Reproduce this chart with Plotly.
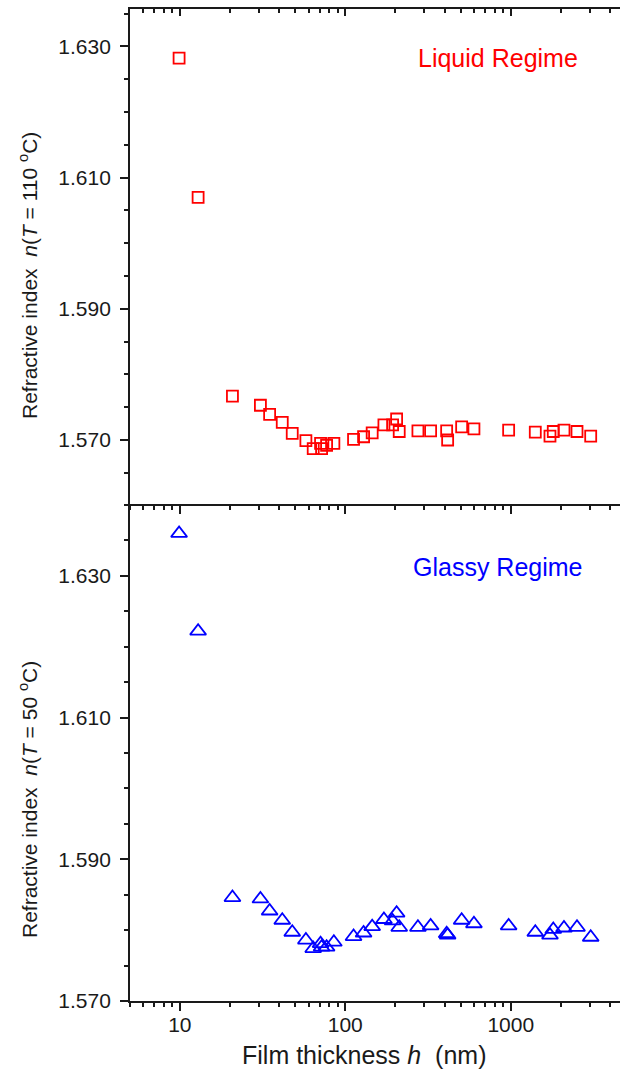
import plotly.graph_objects as go
import math

# Film thickness h (nm), shared by both regimes
thickness = [9.9, 12.9, 20.8, 30.7, 34.9, 41.6, 47.8, 57.8, 64.0, 70.9, 71.9,
             77.1, 85.3, 112.2, 129.0, 145.4, 171.2, 193.2, 204.3, 211.8, 274.8,
             327.9, 409.8, 415.5, 505, 599, 971, 1407, 1726, 1807, 2097, 2514, 3042]

# Refractive index at T = 110 C (liquid regime)
n_liquid = [1.6282, 1.6070, 1.5767, 1.5753, 1.5739, 1.5727, 1.5710, 1.5699, 1.5687,
            1.5695, 1.5687, 1.5692, 1.5695, 1.5701, 1.5705, 1.5711, 1.5723, 1.5723,
            1.5732, 1.5713, 1.5714, 1.5714, 1.5714, 1.5700, 1.5720, 1.5717, 1.5715,
            1.5712, 1.5706, 1.5713, 1.5715, 1.5713, 1.5706]

# Refractive index at T = 50 C (glassy regime)
n_glassy = [1.6360, 1.6222, 1.5846, 1.5844, 1.5827, 1.5814, 1.5797, 1.5786, 1.5774,
            1.5781, 1.5776, 1.5776, 1.5783, 1.5791, 1.5796, 1.5805, 1.5815, 1.5813,
            1.5824, 1.5804, 1.5804, 1.5806, 1.5795, 1.5793, 1.5814, 1.5809, 1.5806,
            1.5797, 1.5793, 1.5801, 1.5803, 1.5804, 1.5790]

x_tickvals = [10, 100, 1000]
x_ticktext = ["10", "100", "1000"]

FONT = "Liberation Sans, Arial, sans-serif"
INK = "#1a1a1a"
W, H = 620, 1076
ML, MR, MT, MB = 130, 0, 9, 75
SPLIT = 0.5007
XRANGE = [math.log10(5), 3.6602]

fig = go.Figure()

fig.add_trace(go.Scatter(
    x=thickness, y=n_liquid, mode="markers", xaxis="x", yaxis="y",
    marker=dict(symbol="square-open", size=11, color="#ff0000",
                line=dict(width=1.8, color="#ff0000")),
    showlegend=False, hoverinfo="skip"))

fig.add_trace(go.Scatter(
    x=thickness, y=n_glassy, mode="markers", xaxis="x2", yaxis="y2",
    marker=dict(symbol="triangle-up-open", size=14, color="#0000ff",
                line=dict(width=1.8, color="#0000ff")),
    showlegend=False, hoverinfo="skip"))

# invisible trace so the top-edge tick axis is drawn
fig.add_trace(go.Scatter(x=[100], y=[1.6], xaxis="x3", yaxis="y", mode="markers",
                         marker=dict(opacity=0), showlegend=False, hoverinfo="skip"))

common_x = dict(type="log", range=XRANGE, showgrid=False, zeroline=False,
                showline=True, linecolor=INK, linewidth=1.8,
                tickvals=x_tickvals, ticktext=x_ticktext,
                tickcolor=INK, tickwidth=1.5, ticklen=8,
                minor=dict(dtick="D1", ticklen=4, tickcolor=INK, tickwidth=1.5,
                           showgrid=False),
                tickfont=dict(family=FONT, size=21, color=INK))

common_y = dict(showgrid=False, zeroline=False, showline=True, linecolor=INK,
                linewidth=1.8, tickformat=".3f", dtick=0.02, tick0=1.57,
                ticks="outside", ticklen=8, tickcolor=INK, tickwidth=1.5,
                ticklabelstandoff=5,
                minor=dict(dtick=0.005, tick0=1.57, ticks="outside", ticklen=4,
                           tickcolor=INK, tickwidth=1.5, showgrid=False),
                tickfont=dict(family=FONT, size=21, color=INK))

xa1 = dict(common_x); xa1.update(anchor="y", ticks="outside", showticklabels=False,
                                  matches="x2")
xa1["minor"] = dict(common_x["minor"], ticks="outside")
xa2 = dict(common_x); xa2.update(anchor="y2", ticks="outside", showticklabels=True,
                                  ticklabelstandoff=-4)
xa2["minor"] = dict(common_x["minor"], ticks="outside")
xa3 = dict(common_x); xa3.update(overlaying="x", side="top", anchor="y",
                                  ticks="inside", ticklen=7, showticklabels=False)
xa3["minor"] = dict(common_x["minor"], ticks="inside")

ya1 = dict(common_y); ya1.update(domain=[SPLIT, 1], range=[1.5602, 1.6357], anchor="x")
ya2 = dict(common_y); ya2.update(domain=[0, SPLIT], range=[1.570, 1.6401], anchor="x2")

def px_x(p):
    return (p - ML) / (W - ML - MR)

def px_y(p):
    return 1 - (p - MT) / (H - MT - MB)

title_font = dict(family=FONT, size=21, color=INK)
annotations = [
    dict(text="Refractive index\u00a0\u00a0<i>n</i>(<i>T</i> = 110 <sup>o</sup>C)",
         x=px_x(28), y=px_y(276), textangle=-90, font=title_font),
    dict(text="Refractive index\u00a0\u00a0<i>n</i>(<i>T</i> = 50 <sup>o</sup>C)",
         x=px_x(28), y=px_y(800), textangle=-90, font=title_font),
    dict(text="Film thickness <i>h</i>\u00a0\u00a0(nm)",
         x=px_x(364), y=px_y(1055), font=dict(title_font, size=25)),
    dict(text="Liquid Regime", x=px_x(498), y=px_y(58),
         font=dict(family=FONT, size=25, color="#ff0000")),
    dict(text="Glassy Regime", x=px_x(498), y=px_y(567),
         font=dict(family=FONT, size=25, color="#0000ff")),
]
for a in annotations:
    a.update(xref="paper", yref="paper", showarrow=False, xanchor="center",
             yanchor="middle")

fig.update_layout(
    width=W, height=H, margin=dict(l=ML, r=MR, t=MT, b=MB, pad=0),
    paper_bgcolor="white", plot_bgcolor="white",
    xaxis=xa1, xaxis2=xa2, xaxis3=xa3, yaxis=ya1, yaxis2=ya2,
    annotations=annotations, showlegend=False,
)

fig.write_html("out.html")
